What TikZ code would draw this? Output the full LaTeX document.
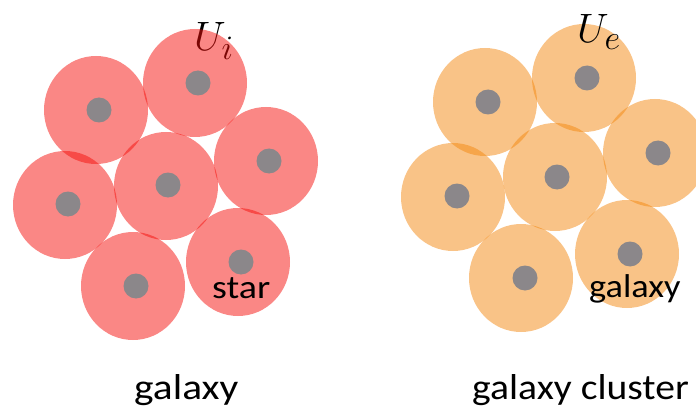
\documentclass[tikz,border=0pt]{standalone}
\usepackage{fontspec}
\usepackage{graphicx}
\newfontfamily\labelfont{Carlito}
\definecolor{starred}{RGB}{245,15,11}
\definecolor{galorange}{RGB}{243,135,15}
\definecolor{coregray}{RGB}{139,135,138}
\tikzset{
  redhalo/.style={fill=starred, fill opacity=0.5},
  orangehalo/.style={fill=galorange, fill opacity=0.5},
  core/.style={fill=coregray},
  biglabel/.style={anchor=base west, inner sep=0pt, font=\labelfont\fontsize{36}{36}\selectfont},
  smalllabel/.style={anchor=base west, inner sep=0pt, font=\labelfont\fontsize{33}{33}\selectfont},
  mathlabel/.style={anchor=base west, inner sep=0pt, font=\Huge},
}
\begin{document}
\begin{tikzpicture}[x=1pt, y=-1pt]
\useasboundingbox (0,0) rectangle (696,409);

% the star potential sits underneath the translucent halos
\node[mathlabel] (ui) at (194,51) {\scalebox{1.65}{$U_i$}};

% galaxy: stars with their halos
\foreach \cx/\cy in {96/110, 195/83, 266/161, 166/186, 65/205, 133/286, 238/262}
  \fill[redhalo] (\cx,\cy) ellipse [x radius=52, y radius=54];
\foreach \cx/\cy in {99/110, 198/83, 269/161, 168/185, 68/204, 136/286, 241/262}
  \fill[core] (\cx,\cy) circle [radius=12.5];

% galaxy cluster: galaxies with their halos
\foreach \cx/\cy in {485/102, 584/78, 655/153, 555/177, 453/197, 521/278, 627/254}
  \fill[orangehalo] (\cx,\cy) ellipse [x radius=52, y radius=54];
\foreach \cx/\cy in {488/102, 587/78, 658/153, 557/177, 457/196, 525/278, 630/254}
  \fill[core] (\cx,\cy) circle [radius=12.5];

% labels
\node[mathlabel] (ue) at (577,43) {\scalebox{1.65}{$U_e$}};
\node[smalllabel] (star) at (212,298) {\scalebox{1.15}[1]{star}};
\node[smalllabel] (gal) at (589,297) {\scalebox{1.1}[1]{galaxy}};
\node[biglabel] (galaxy) at (134,399) {\scalebox{1.15}[1]{galaxy}};
\node[biglabel] (cluster) at (472,399) {\scalebox{1.1}[1]{galaxy cluster}};
\end{tikzpicture}
\end{document}
